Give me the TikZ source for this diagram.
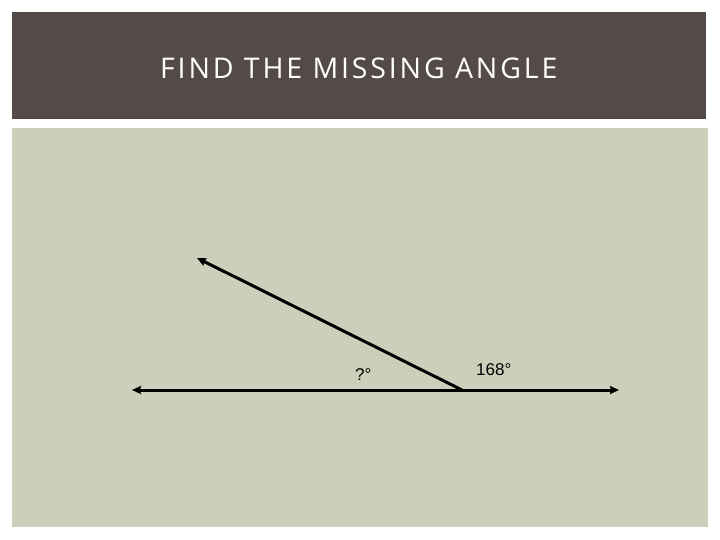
\documentclass[tikz,border=0pt]{standalone}
\usepackage{fontspec}
\setmainfont{Liberation Sans}
\newfontfamily\titlefont[LetterSpace=10]{Open Sans}
\usetikzlibrary{arrows.meta}
\definecolor{hdr}{HTML}{544A48}
\definecolor{pane}{HTML}{CCD0BA}
\tikzset{
  ray/.style={line width=3pt,-{Stealth[length=9pt,width=8pt,inset=1pt]}},
  lbl/.style={font=\fontsize{17}{20}\selectfont, inner sep=0pt, anchor=base west}
}
\begin{document}
\begin{tikzpicture}[x=1pt,y=-1pt]
\useasboundingbox (0,0) rectangle (720,540);
\fill[white] (0,0) rectangle (720,540);
\fill[hdr] (12,12) rectangle (706,119);
\fill[pane] (12,128) rectangle (708,527);
\node[anchor=base west, inner sep=0pt, text=white, font=\titlefont\fontsize{28.5}{33}\selectfont] (title) at (160,79) {FIND THE MISSING ANGLE};
\coordinate (v) at (462,390);
\coordinate (l) at (132,390);
\coordinate (r) at (619,390);
\coordinate (s) at (197,258);
\draw[ray] (v) -- (l);
\draw[ray] (v) -- (r);
\draw[ray] (v) -- (s);
\node[lbl] (q) at (355,380) {?°};
\node[lbl] (a) at (476,375) {168°};
\end{tikzpicture}
\end{document}
